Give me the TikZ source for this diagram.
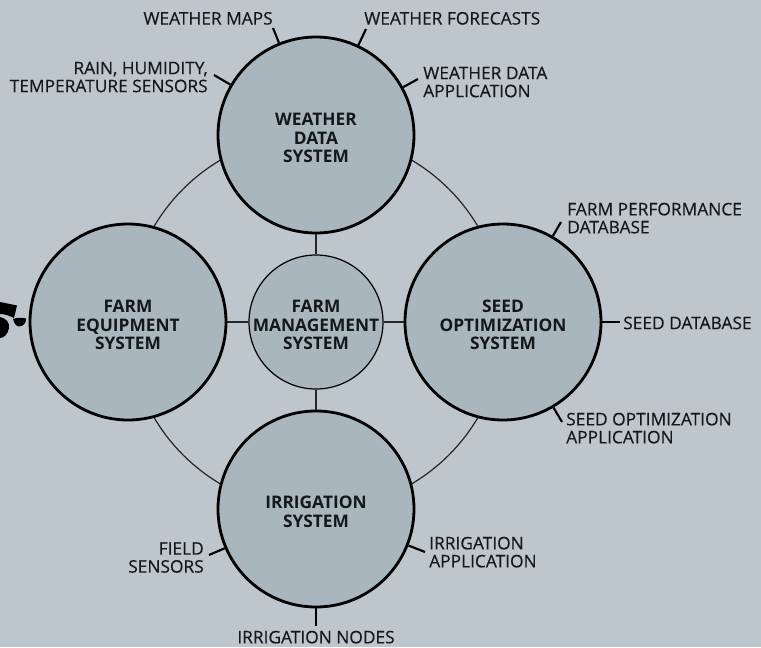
\documentclass[tikz,border=0pt]{standalone}
\usepackage{fontspec}
\setmainfont{Open Sans}
\newfontfamily\labfont[FakeBold=0.25]{Open Sans}
\definecolor{bgc}{HTML}{BDC5CD}
\definecolor{circc}{HTML}{A9B6BE}
\definecolor{inkc}{HTML}{15181B}
\newlength{\pxu}\setlength{\pxu}{0.75pt}
\tikzset{
  big/.style={circle,draw=black,line width=2.1pt,fill=circc,minimum size=196\pxu,inner sep=0pt},
  hub/.style={circle,draw=black,line width=0.9pt,fill=circc,minimum size=134\pxu,inner sep=0pt},
  title/.style={inner sep=0pt,yshift=-2.2pt,align=center,text=inkc,font=\fontsize{13}{13.75}\selectfont\bfseries},
  lbl/.style={inner sep=0pt,text=inkc,font=\labfont\fontsize{13}{13.5}\selectfont,align=left},
  lblr/.style={lbl,align=right},
  lblc/.style={lbl,align=center},
  tick/.style={line width=1.6pt,black},
  link/.style={line width=0.9pt,black!85},
}
\begin{document}
\begin{tikzpicture}[x=0.75pt,y=-0.75pt]
\useasboundingbox (0,0) rectangle (761,647);
\fill[bgc] (0,0) rectangle (761,647);
\coordinate (ctr) at (316,322);
\draw[link] (ctr) circle[radius=188];
\node[hub,label={[title]center:{FARM\\MANAGEMENT\\SYSTEM}}] (hub) at (ctr) {};
\node[big,label={[title]center:{WEATHER\\DATA\\SYSTEM}}] (wx) at (316,135) {};
\node[big,label={[title]center:{FARM\\EQUIPMENT\\SYSTEM}}] (fe) at (128,322) {};
\node[big,label={[title]center:{SEED\\OPTIMIZATION\\SYSTEM}}] (so) at (503,322) {};
\node[big,label={[title]center:{IRRIGATION\\SYSTEM}}] (ir) at (316,509) {};
\draw[link] (hub) -- (wx);
\draw[link] (hub) -- (fe);
\draw[link] (hub) -- (so);
\draw[link] (hub) -- (ir);
% tractor
\fill[black] (0,302) -- (17,305.5) -- (14,318) .. controls (10,316) and (5,314) .. (0,314) -- cycle;
\fill[black] (0,317) .. controls (6,318) and (10,323) .. (9,328) .. controls (8,334) and (4,338) .. (0,338) -- cycle;
\fill[black] (13,319) .. controls (17,317.5) and (22,317.5) .. (26,318.5) .. controls (26.5,323) and (23,326.5) .. (19,326.5) .. controls (16,326) and (14,323) .. (13,319) -- cycle;
% labels
\node[lblr,anchor=south east] (a) at (273,25) {WEATHER MAPS};
\node[lbl,anchor=south west] (b) at (364,25) {WEATHER FORECASTS};
\node[lbl,anchor=north west] (c) at (423,66.5) {WEATHER DATA\\APPLICATION};
\node[lblr,anchor=north east] (d) at (208,61.5) {RAIN, HUMIDITY,\\TEMPERATURE SENSORS};
\node[lbl,anchor=north west] (e) at (567,202.5) {FARM PERFORMANCE\\DATABASE};
\node[lbl,anchor=west] (f) at (623,323) {SEED DATABASE};
\node[lbl,anchor=north west] (g) at (566,412.5) {SEED OPTIMIZATION\\APPLICATION};
\node[lbl,anchor=north west] (h) at (429,536.5) {IRRIGATION\\APPLICATION};
\node[lblc,anchor=north] (i) at (316,630.5) {IRRIGATION NODES};
\node[lblr,anchor=north east] (j) at (204,542) {FIELD\\SENSORS};
\coordinate (ta) at (273,28);
\coordinate (tb) at (366,29);
\coordinate (tc) at (418,79);
\coordinate (td) at (214,75);
\coordinate (te) at (561,222);
\coordinate (tf) at (620,322);
\coordinate (tg) at (562,422);
\coordinate (th) at (425,552);
\coordinate (ti) at (316,626);
\coordinate (tj) at (209,555);
\foreach \c/\t in {wx/ta,wx/tb,wx/tc,wx/td,so/te,so/tf,so/tg,ir/th,ir/ti,ir/tj}
  \draw[tick] (\c) -- (\t);
\end{tikzpicture}
\end{document}
